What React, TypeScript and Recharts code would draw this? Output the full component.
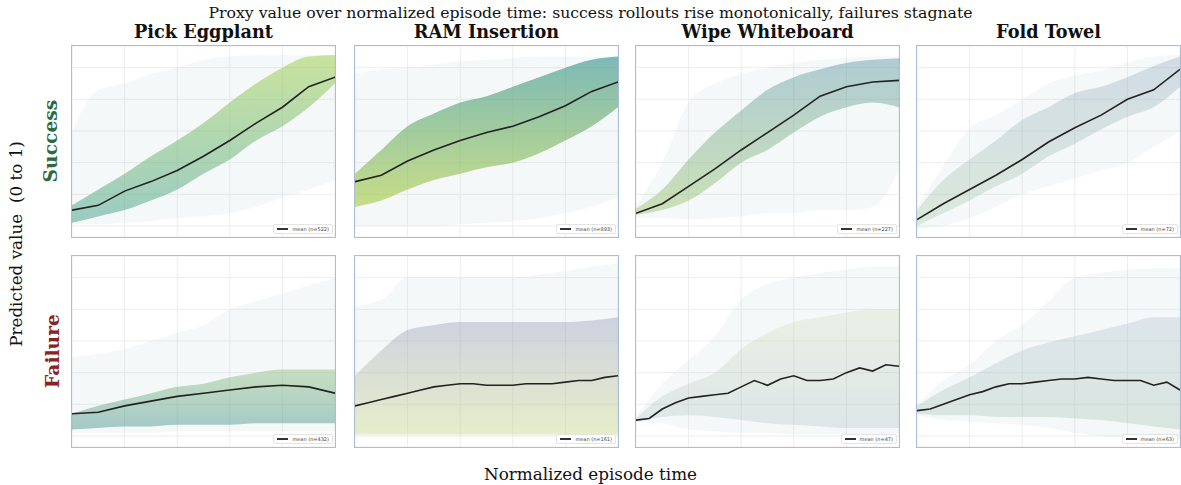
import React from "react";
import { ComposedChart, Area, Line, XAxis, YAxis, CartesianGrid } from "recharts";

// normalized episode time samples
const TIME = [0, 0.1, 0.2, 0.3, 0.4, 0.5, 0.6, 0.7, 0.8, 0.9, 1.0];
const TIME_FINE = [
  0, 0.05, 0.1, 0.15, 0.2, 0.25, 0.3, 0.35, 0.4, 0.45, 0.5, 0.55, 0.6, 0.65, 0.7,
  0.75, 0.8, 0.85, 0.9, 0.95, 1.0,
];

// ---- success rollouts ----
const PICK_S_MEAN = [0.1, 0.13, 0.22, 0.28, 0.35, 0.44, 0.54, 0.65, 0.75, 0.88, 0.94];
const PICK_S_CORE_LO = [0.02, 0.06, 0.1, 0.16, 0.23, 0.33, 0.42, 0.54, 0.63, 0.75, 0.9];
const PICK_S_CORE_HI = [0.13, 0.23, 0.33, 0.44, 0.54, 0.65, 0.78, 0.9, 1.0, 1.07, 1.08];
const PICK_S_OUTER_LO = [0.01, 0.01, 0.02, 0.03, 0.05, 0.06, 0.08, 0.12, 0.18, 0.23, 0.29];
const PICK_S_OUTER_HI = [0.6, 0.86, 0.9, 0.96, 1.0, 1.05, 1.07, 1.08, 1.08, 1.08, 1.08];

const RAM_S_MEAN = [0.28, 0.32, 0.41, 0.48, 0.54, 0.59, 0.63, 0.69, 0.76, 0.85, 0.91];
const RAM_S_CORE_LO = [0.12, 0.16, 0.23, 0.29, 0.33, 0.37, 0.4, 0.46, 0.54, 0.63, 0.75];
const RAM_S_CORE_HI = [0.33, 0.48, 0.63, 0.71, 0.78, 0.82, 0.88, 0.94, 1.0, 1.05, 1.07];
const RAM_S_OUTER_LO = [0.0, 0.0, 0.0, 0.0, 0.01, 0.02, 0.03, 0.05, 0.08, 0.12, 0.18];
const RAM_S_OUTER_HI = [0.96, 0.99, 1.0, 1.02, 1.04, 1.05, 1.06, 1.07, 1.07, 1.07, 1.07];

const WIPE_S_MEAN = [0.08, 0.14, 0.25, 0.36, 0.48, 0.59, 0.7, 0.82, 0.88, 0.91, 0.92];
const WIPE_S_CORE_LO = [0.07, 0.1, 0.16, 0.27, 0.4, 0.48, 0.59, 0.69, 0.75, 0.78, 0.75];
const WIPE_S_CORE_HI = [0.11, 0.23, 0.42, 0.59, 0.73, 0.86, 0.94, 0.99, 1.03, 1.05, 1.06];
const WIPE_S_OUTER_LO = [0.05, 0.05, 0.04, 0.05, 0.06, 0.08, 0.08, 0.1, 0.1, 0.12, 0.35];
const WIPE_S_OUTER_HI = [0.13, 0.4, 0.78, 0.9, 0.96, 1.0, 1.03, 1.05, 1.06, 1.07, 1.07];

const FOLD_S_MEAN = [0.04, 0.14, 0.23, 0.32, 0.42, 0.53, 0.62, 0.7, 0.8, 0.86, 0.99];
const FOLD_S_CORE_LO = [0.0, 0.08, 0.16, 0.25, 0.33, 0.44, 0.52, 0.61, 0.69, 0.75, 0.88];
const FOLD_S_CORE_HI = [0.1, 0.29, 0.42, 0.54, 0.67, 0.75, 0.84, 0.88, 0.94, 1.01, 1.07];
const FOLD_S_OUTER_LO = [-0.02, 0.0, 0.05, 0.12, 0.2, 0.25, 0.3, 0.35, 0.4, 0.5, 0.6];
const FOLD_S_OUTER_HI = [0.12, 0.38, 0.62, 0.7, 0.8, 0.9, 0.95, 0.98, 1.03, 1.07, 1.08];

// ---- failure rollouts ----
const PICK_F_MEAN = [0.14, 0.15, 0.19, 0.22, 0.25, 0.27, 0.29, 0.31, 0.32, 0.31, 0.27];
const PICK_F_CORE_LO = [0.04, 0.05, 0.06, 0.06, 0.07, 0.07, 0.07, 0.08, 0.08, 0.08, 0.08];
const PICK_F_CORE_HI = [0.14, 0.19, 0.23, 0.27, 0.31, 0.33, 0.37, 0.4, 0.42, 0.42, 0.42];
const PICK_F_OUTER_LO = [0.02, 0.02, 0.02, 0.02, 0.03, 0.03, 0.03, 0.03, 0.03, 0.03, 0.03];
const PICK_F_OUTER_HI = [0.5, 0.52, 0.55, 0.6, 0.65, 0.7, 0.8, 0.85, 0.9, 0.95, 1.0];

const RAM_F_MEAN = [
  0.19, 0.21, 0.23, 0.25, 0.27, 0.29, 0.31, 0.32, 0.33, 0.33, 0.32, 0.32, 0.32, 0.33,
  0.33, 0.33, 0.34, 0.35, 0.35, 0.37, 0.38,
];
const RAM_F_CORE_LO = [0.01, 0.01, 0.01, 0.01, 0.01, 0.01, 0.01, 0.01, 0.01, 0.01, 0.01];
const RAM_F_CORE_HI = [0.38, 0.54, 0.67, 0.7, 0.72, 0.72, 0.72, 0.72, 0.72, 0.73, 0.75];
const RAM_F_OUTER_LO = [0.0, 0.0, 0.0, 0.0, 0.0, 0.0, 0.0, 0.0, 0.0, 0.0, 0.0];
const RAM_F_OUTER_HI = [0.82, 0.86, 1.0, 1.0, 1.0, 1.0, 1.0, 1.02, 1.04, 1.07, 1.09];

const WIPE_F_MEAN = [
  0.1, 0.11, 0.17, 0.21, 0.24, 0.25, 0.26, 0.27, 0.31, 0.35, 0.32, 0.36, 0.38, 0.35,
  0.35, 0.36, 0.4, 0.43, 0.41, 0.45, 0.44,
];
const WIPE_F_CORE_LO = [0.09, 0.12, 0.13, 0.12, 0.1, 0.08, 0.07, 0.06, 0.05, 0.05, 0.05];
const WIPE_F_CORE_HI = [0.11, 0.25, 0.33, 0.4, 0.55, 0.65, 0.72, 0.75, 0.78, 0.8, 0.8];
const WIPE_F_OUTER_LO = [0.09, 0.08, 0.04, 0.03, 0.02, 0.02, 0.01, 0.01, 0.01, 0.01, 0.01];
const WIPE_F_OUTER_HI = [0.12, 0.33, 0.48, 0.63, 0.86, 0.96, 1.0, 1.03, 1.05, 1.07, 1.07];

const FOLD_F_MEAN = [
  0.16, 0.17, 0.2, 0.23, 0.26, 0.28, 0.31, 0.33, 0.33, 0.34, 0.35, 0.36, 0.36, 0.37,
  0.36, 0.35, 0.35, 0.35, 0.32, 0.34, 0.29,
];
const FOLD_F_CORE_LO = [0.14, 0.13, 0.13, 0.12, 0.12, 0.12, 0.11, 0.1, 0.08, 0.06, 0.04];
const FOLD_F_CORE_HI = [0.19, 0.29, 0.37, 0.46, 0.54, 0.59, 0.63, 0.67, 0.71, 0.75, 0.75];
const FOLD_F_OUTER_LO = [0.13, 0.1, 0.09, 0.08, 0.07, 0.05, 0.02, 0.0, -0.01, -0.02, -0.02];
const FOLD_F_OUTER_HI = [0.2, 0.35, 0.45, 0.6, 0.7, 0.85, 1.0, 1.03, 1.05, 1.06, 1.06];

const TASKS = ["Pick Eggplant", "RAM Insertion", "Wipe Whiteboard", "Fold Towel"];
const SUCCESS_N = [522, 893, 227, 72];
const FAILURE_N = [432, 161, 47, 63];

type Panel = {
  id: string;
  n: number;
  mean: number[];
  meanTime: number[];
  coreLo: number[];
  coreHi: number[];
  outerLo: number[];
  outerHi: number[];
  top: string;
  bottom: string;
  coreOpacity: number;
};

const SUCCESS: Panel[] = [
  { id: "ps", n: SUCCESS_N[0], mean: PICK_S_MEAN, meanTime: TIME, coreLo: PICK_S_CORE_LO, coreHi: PICK_S_CORE_HI, outerLo: PICK_S_OUTER_LO, outerHi: PICK_S_OUTER_HI, top: "#9ccd45", bottom: "#3f9f8c", coreOpacity: 0.5 },
  { id: "rs", n: SUCCESS_N[1], mean: RAM_S_MEAN, meanTime: TIME, coreLo: RAM_S_CORE_LO, coreHi: RAM_S_CORE_HI, outerLo: RAM_S_OUTER_LO, outerHi: RAM_S_OUTER_HI, top: "#2e8f8a", bottom: "#a8cc3a", coreOpacity: 0.6 },
  { id: "ws", n: SUCCESS_N[2], mean: WIPE_S_MEAN, meanTime: TIME, coreLo: WIPE_S_CORE_LO, coreHi: WIPE_S_CORE_HI, outerLo: WIPE_S_OUTER_LO, outerHi: WIPE_S_OUTER_HI, top: "#4f8fa0", bottom: "#8fbf5a", coreOpacity: 0.42 },
  { id: "fs", n: SUCCESS_N[3], mean: FOLD_S_MEAN, meanTime: TIME, coreLo: FOLD_S_CORE_LO, coreHi: FOLD_S_CORE_HI, outerLo: FOLD_S_OUTER_LO, outerHi: FOLD_S_OUTER_HI, top: "#7f98b8", bottom: "#9cc59a", coreOpacity: 0.3 },
];

const FAILURE: Panel[] = [
  { id: "pf", n: FAILURE_N[0], mean: PICK_F_MEAN, meanTime: TIME, coreLo: PICK_F_CORE_LO, coreHi: PICK_F_CORE_HI, outerLo: PICK_F_OUTER_LO, outerHi: PICK_F_OUTER_HI, top: "#8fbf7f", bottom: "#3f8f8a", coreOpacity: 0.45 },
  { id: "rf", n: FAILURE_N[1], mean: RAM_F_MEAN, meanTime: TIME_FINE, coreLo: RAM_F_CORE_LO, coreHi: RAM_F_CORE_HI, outerLo: RAM_F_OUTER_LO, outerHi: RAM_F_OUTER_HI, top: "#7d84b0", bottom: "#c8d86a", coreOpacity: 0.33 },
  { id: "wf", n: FAILURE_N[2], mean: WIPE_F_MEAN, meanTime: TIME_FINE, coreLo: WIPE_F_CORE_LO, coreHi: WIPE_F_CORE_HI, outerLo: WIPE_F_OUTER_LO, outerHi: WIPE_F_OUTER_HI, top: "#c3d39f", bottom: "#8aa6b0", coreOpacity: 0.22 },
  { id: "ff", n: FAILURE_N[3], mean: FOLD_F_MEAN, meanTime: TIME_FINE, coreLo: FOLD_F_CORE_LO, coreHi: FOLD_F_CORE_HI, outerLo: FOLD_F_OUTER_LO, outerHi: FOLD_F_OUTER_HI, top: "#9fb3c8", bottom: "#8fb8a0", coreOpacity: 0.28 },
];

const COL_LEFT = [72, 355, 636, 917];
const ROW_TOP = [46, 256];
const W = 263;
const H = 191;
const SERIF = "'DejaVu Serif', serif";

const PanelChart = ({ p }: { p: Panel }) => {
  const bands = TIME.map((t, i) => ({
    t,
    core: [p.coreLo[i], p.coreHi[i]],
    outer: [p.outerLo[i], p.outerHi[i]],
  }));
  const meanRows = p.meanTime.map((t, i) => ({ t, mean: p.mean[i] }));
  return (
    <div style={{ position: "relative", width: W, height: H }}>
      <ComposedChart width={W} height={H} margin={{ top: 0, right: 0, bottom: 0, left: 0 }}>
        <defs>
          <linearGradient id={"g" + p.id} x1="0" y1="0" x2="0" y2="1">
            <stop offset="0%" stopColor={p.top} />
            <stop offset="100%" stopColor={p.bottom} />
          </linearGradient>
        </defs>
        <XAxis dataKey="t" type="number" domain={[0, 1]} ticks={[0.2, 0.4, 0.6, 0.8]} hide allowDuplicatedCategory={false} />
        <YAxis type="number" domain={[-0.07, 1.137]} ticks={[0, 0.2, 0.4, 0.6, 0.8, 1.0]} hide allowDataOverflow />
        <CartesianGrid stroke="#ededed" strokeWidth={1} />
        <Area data={bands} dataKey="outer" type="monotone" stroke="none" fill="#b3cccb" fillOpacity={0.13} isAnimationActive={false} />
        <Area data={bands} dataKey="core" type="monotone" stroke="none" fill={"url(#g" + p.id + ")"} fillOpacity={p.coreOpacity} isAnimationActive={false} />
        <Line data={meanRows} dataKey="mean" type="linear" stroke="#222222" strokeWidth={1.6} dot={false} isAnimationActive={false} />
      </ComposedChart>
      <div
        style={{
          position: "absolute",
          right: 2,
          bottom: 3,
          background: "rgba(255,255,255,0.85)",
          border: "1px solid #e4e4e4",
          borderRadius: 2,
          padding: "1px 3px",
          display: "flex",
          alignItems: "center",
          gap: 4,
          fontFamily: "'DejaVu Sans', sans-serif",
          fontSize: 5,
          color: "#444",
          lineHeight: "6px",
        }}
      >
        <span style={{ display: "inline-block", width: 11, height: 1.5, background: "#333" }} />
        <span>mean (n={p.n})</span>
      </div>
    </div>
  );
};

const App = () => {
  const rows = [SUCCESS, FAILURE];
  return (
    <div style={{ position: "absolute", left: 0, top: 0, width: 1181, height: 485, background: "#fff", fontFamily: SERIF }}>
      <div style={{ position: "absolute", left: 0, width: 1181, top: 5, lineHeight: "16px", textAlign: "center", fontSize: 15.7, color: "#111" }}>
        Proxy value over normalized episode time: success rollouts rise monotonically, failures stagnate
      </div>
      {TASKS.map((t, c) => (
        <div key={t} style={{ position: "absolute", left: COL_LEFT[c] - 20, width: W + 40, top: 23, lineHeight: "18px", textAlign: "center", fontSize: 17.7, fontWeight: "bold", color: "#111" }}>
          {t}
        </div>
      ))}
      {rows.map((row, r) =>
        row.map((p, c) => (
          <div
            key={p.id}
            style={{
              position: "absolute",
              left: COL_LEFT[c] - 1,
              top: ROW_TOP[r] - 1,
              border: "1.5px solid #a8bfd6",
            }}
          >
            <PanelChart p={p} />
          </div>
        ))
      )}
      <div style={{ position: "absolute", left: 50, top: 141, lineHeight: "20px", transform: "translate(-50%,-50%) rotate(-90deg)", fontSize: 18.7, fontWeight: "bold", color: "#2d6b3f", whiteSpace: "nowrap" }}>
        Success
      </div>
      <div style={{ position: "absolute", left: 52, top: 351, lineHeight: "20px", transform: "translate(-50%,-50%) rotate(-90deg)", fontSize: 18.7, fontWeight: "bold", color: "#8b2222", whiteSpace: "nowrap" }}>
        Failure
      </div>
      <div style={{ position: "absolute", left: 16, top: 244, lineHeight: "18px", transform: "translate(-50%,-50%) rotate(-90deg)", fontSize: 16.8, color: "#111", whiteSpace: "pre" }}>
        {"Predicted value  (0 to 1)"}
      </div>
      <div style={{ position: "absolute", left: 0, width: 1181, top: 464, lineHeight: "20px", textAlign: "center", fontSize: 16.8, color: "#111" }}>
        Normalized episode time
      </div>
    </div>
  );
};

export default App;
